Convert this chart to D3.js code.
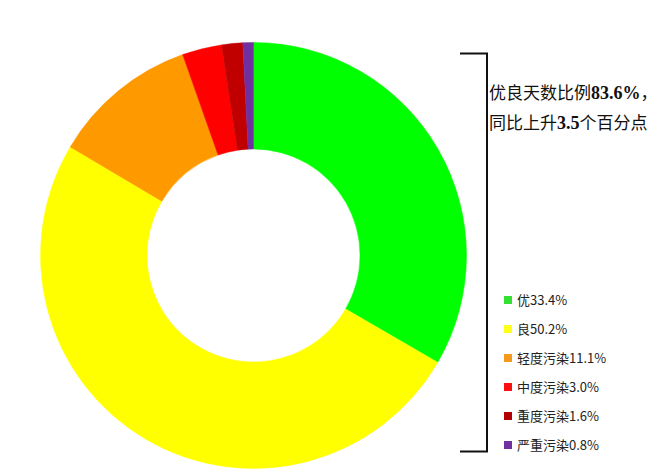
<!DOCTYPE html>
<html>
<head>
<meta charset="utf-8">
<script src="https://cdn.jsdelivr.net/npm/d3@7"></script>
<style>
  html, body { margin: 0; padding: 0; background: #fff; }
  svg { display: block; }
</style>
</head>
<body>
<svg id="chart"></svg>
<script>
// air quality levels, share of days (%)
const levels = ['优', '良', '轻度污染', '中度污染', '重度污染', '严重污染'];
const shares = [33.4, 50.2, 11.1, 3.0, 1.6, 0.8];
const colors = ['#00ff00', '#ffff00', '#ff9900', '#ff0000', '#c00000', '#7030a0'];
const legendColors = ['#33e033', '#ffff1a', '#f39a1c', '#ff1010', '#b00000', '#7030a0'];

const width = 660, height = 472;
const cx = 253.5, cy = 255.5;
const outerR = 213, innerR = 106.5;

const svg = d3.select('#chart')
    .attr('width', width)
    .attr('height', height);

const data = levels.map((l, i) => ({ level: l, share: shares[i], color: colors[i] }));

const pie = d3.pie()
    .sort(null)
    .value(d => d.share);

const arc = d3.arc()
    .innerRadius(innerR)
    .outerRadius(outerR);

svg.append('g')
    .attr('transform', `translate(${cx},${cy})`)
    .selectAll('path')
    .data(pie(data))
    .enter()
    .append('path')
    .attr('d', arc)
    .attr('fill', d => d.data.color)
    .attr('stroke', d => d.data.color)
    .attr('stroke-width', 0.5);

// bracket on the right
svg.append('path')
    .attr('d', 'M460,53.5H487V451.5H460')
    .attr('fill', 'none')
    .attr('stroke', '#111')
    .attr('stroke-width', 2);

// callout text, CJK in sans with bold serif numbers
const cjk = '"Noto Sans CJK SC", sans-serif';
const num = '"Liberation Serif", "DejaVu Serif", serif';
const lines = [
    [['优良天数比例', cjk, 'normal'], ['83.6%', num, 'bold'], ['，', cjk, 'normal']],
    [['同比上升', cjk, 'normal'], ['3.5', num, 'bold'], ['个百分点', cjk, 'normal']]
];
lines.forEach((parts, i) => {
    const t = svg.append('text')
        .attr('x', 489)
        .attr('y', 99 + i * 30)
        .attr('fill', '#111')
        .style('font-size', '17px');
    parts.forEach(p => {
        t.append('tspan')
            .text(p[0])
            .style('font-family', p[1])
            .style('font-weight', p[2])
            .style('font-size', p[1] === num ? '18px' : '17px');
    });
});

// legend
const legend = svg.append('g')
    .selectAll('g')
    .data(data)
    .enter()
    .append('g')
    .attr('transform', (d, i) => `translate(504, ${300 + i * 29})`);

legend.append('rect')
    .attr('x', 0)
    .attr('y', -4)
    .attr('width', 8)
    .attr('height', 8)
    .attr('fill', (d, i) => legendColors[i]);

legend.append('text')
    .attr('x', 13)
    .attr('y', 0)
    .attr('dy', '0.35em')
    .attr('fill', '#222')
    .style('font-family', '"Noto Sans CJK SC", sans-serif')
    .style('font-size', '13px')
    .text(d => d.level + d.share.toFixed(1) + '%');
</script>
</body>
</html>
